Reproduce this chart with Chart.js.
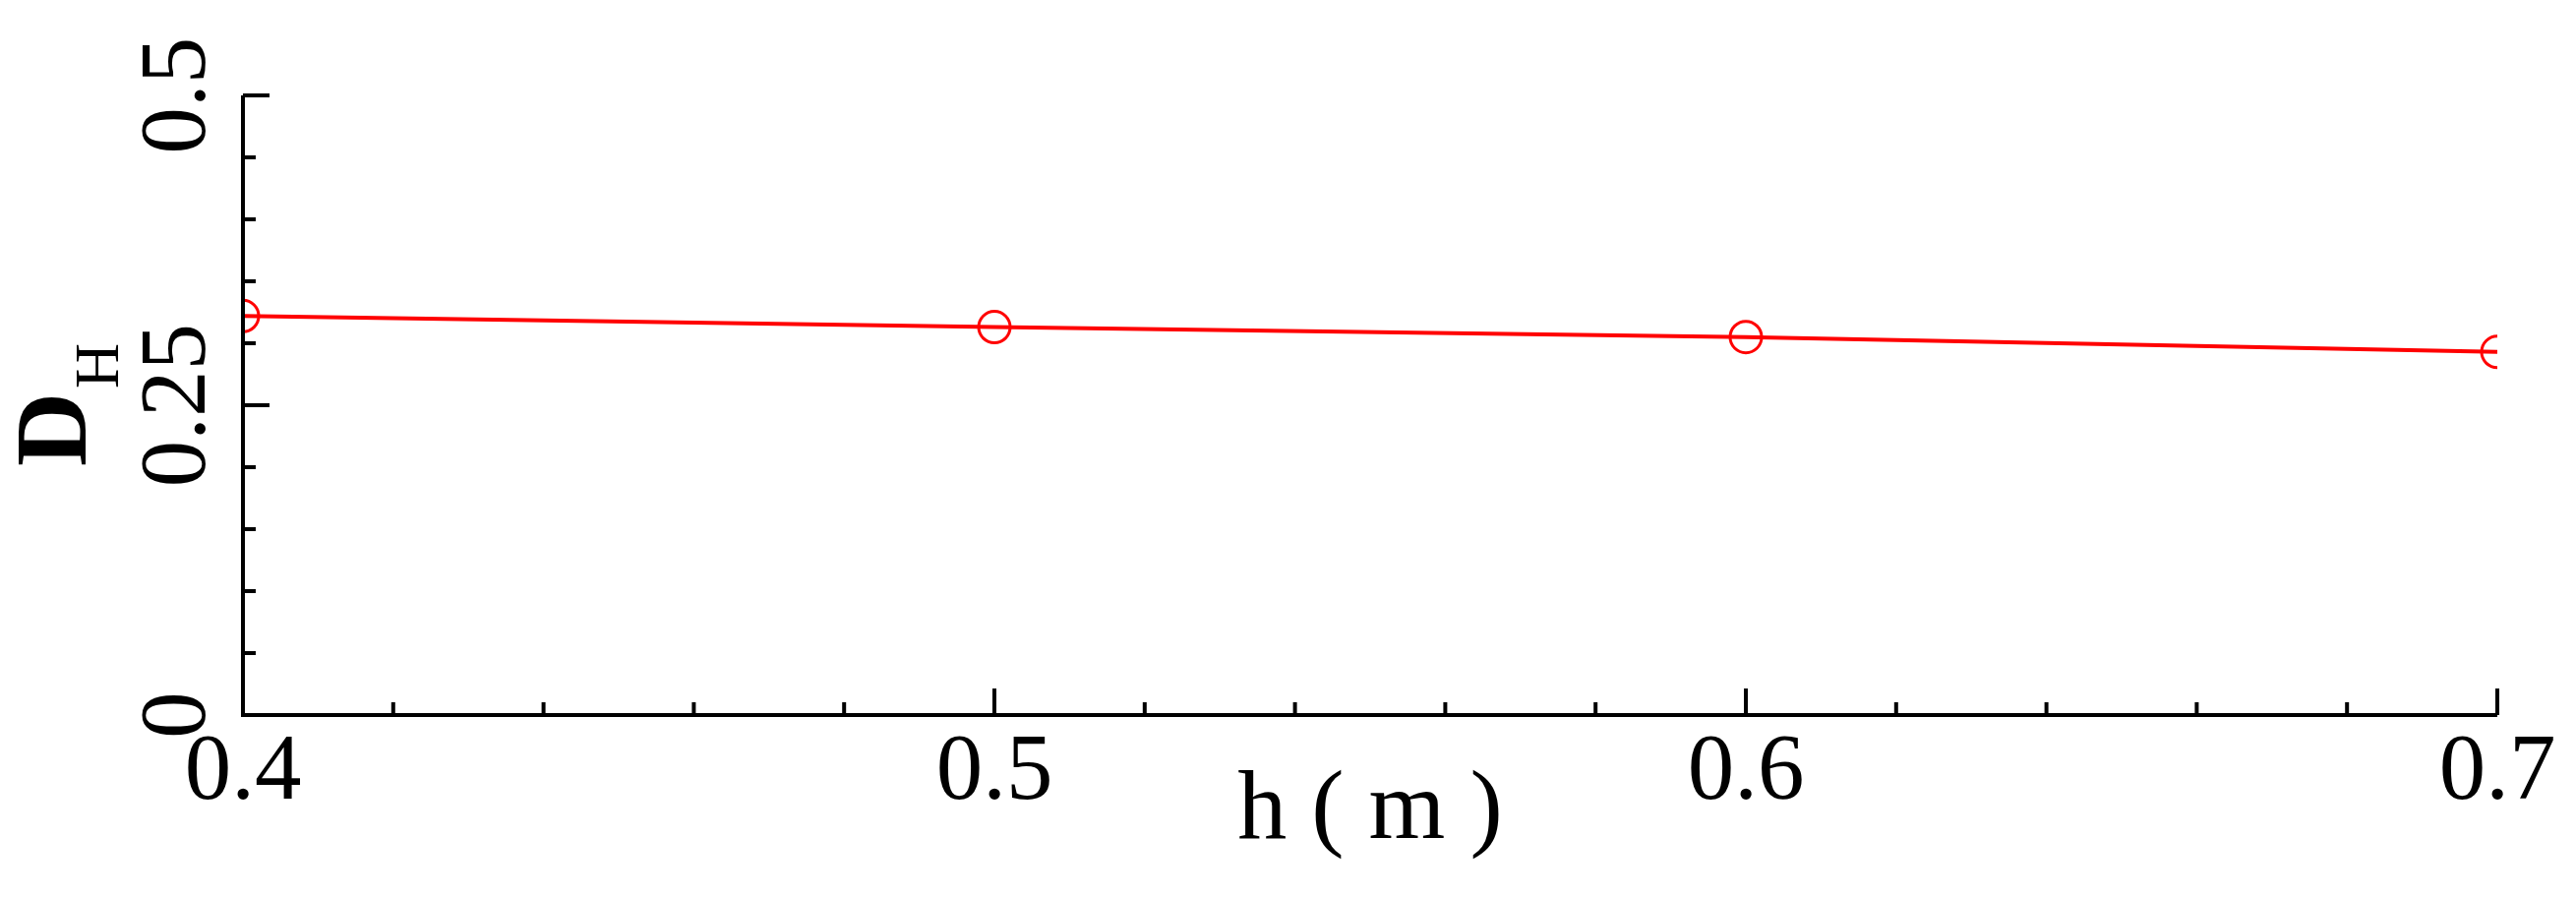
<!DOCTYPE html>
<html>
<head>
<meta charset="utf-8">
<script src="https://cdn.jsdelivr.net/npm/chart.js@4/dist/chart.umd.min.js"></script>
<style>
  html, body { margin: 0; padding: 0; background: #fff; }
  #wrap { width: 2619px; height: 912px; }
</style>
</head>
<body>
<div id="wrap"><canvas id="myChart" width="2619" height="912"></canvas></div>
<script>
// data
var hValues = [0.4, 0.5, 0.6, 0.7];
var dhValues = [0.322, 0.313, 0.305, 0.293];
var xTickLabels = ["0.4", "0.5", "0.6", "0.7"];
var yTickLabels = ["0", "0.25", "0.5"];

var serif = '"Liberation Serif", "DejaVu Serif", serif';

// axes, inward ticks and labels drawn by hand
var axesPlugin = {
  id: "axes",
  afterDraw: function (chart) {
    var ctx = chart.ctx;
    var xs = chart.scales.x;
    var ys = chart.scales.y;
    var a = chart.chartArea;
    ctx.save();
    ctx.strokeStyle = "#000";
    ctx.lineWidth = 4;
    ctx.beginPath();
    ctx.moveTo(a.left, a.top);
    ctx.lineTo(a.left, a.bottom);
    ctx.lineTo(a.right, a.bottom);
    ctx.stroke();

    // x ticks
    for (var i = 0; i <= 15; i++) {
      var v = 0.4 + i * 0.02;
      var px = xs.getPixelForValue(v);
      var len = i % 5 === 0 ? 27 : 13;
      ctx.beginPath();
      ctx.moveTo(px, a.bottom);
      ctx.lineTo(px, a.bottom - len);
      ctx.stroke();
    }
    // y ticks
    for (var j = 0; j <= 10; j++) {
      var py = ys.getPixelForValue(j * 0.05);
      var l = j % 5 === 0 ? 27 : 13;
      ctx.beginPath();
      ctx.moveTo(a.left, py);
      ctx.lineTo(a.left + l, py);
      ctx.stroke();
    }

    ctx.fillStyle = "#000";
    ctx.font = "95px " + serif;
    ctx.textAlign = "center";
    ctx.textBaseline = "alphabetic";
    xTickLabels.forEach(function (t) {
      ctx.fillText(t, xs.getPixelForValue(parseFloat(t)), 812);
    });
    yTickLabels.forEach(function (t) {
      ctx.save();
      ctx.translate(208, ys.getPixelForValue(parseFloat(t)));
      ctx.rotate(-Math.PI / 2);
      ctx.fillText(t, 0, 0);
      ctx.restore();
    });

    // x title
    ctx.font = "100px " + serif;
    ctx.fillText("h ( m )", (a.left + a.right) / 2, 852);

    // y title D_H
    ctx.save();
    ctx.translate(87, 474);
    ctx.rotate(-Math.PI / 2);
    ctx.textAlign = "left";
    ctx.font = "bold 104px " + serif;
    ctx.fillText("D", 0, 0);
    ctx.font = "64px " + serif;
    ctx.fillText("H", 79, 33);
    ctx.restore();
    ctx.restore();
  }
};

var ctx = document.getElementById("myChart").getContext("2d");
var chart = new Chart(ctx, {
  type: "line",
  data: {
    datasets: [
      {
        data: hValues.map(function (h, i) { return { x: h, y: dhValues[i] }; }),
        borderColor: "#ff0000",
        borderWidth: 4,
        pointRadius: 16,
        pointBorderWidth: 3,
        pointBorderColor: "#ff0000",
        pointBackgroundColor: "rgba(0,0,0,0)",
        fill: false,
        tension: 0
      }
    ]
  },
  options: {
    responsive: false,
    animation: false,
    layout: { padding: { left: 247, right: 80, top: 97, bottom: 185 } },
    plugins: { legend: { display: false }, tooltip: { enabled: false } },
    scales: {
      x: { type: "linear", min: 0.4, max: 0.7, display: false },
      y: { type: "linear", min: 0, max: 0.5, display: false }
    }
  },
  plugins: [axesPlugin]
});
</script>
</body>
</html>
